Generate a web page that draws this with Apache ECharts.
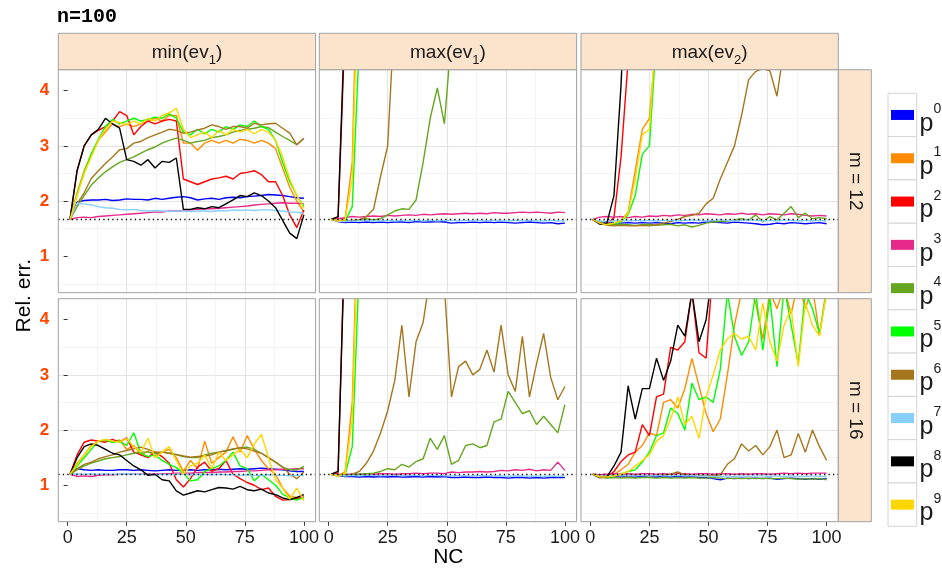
<!DOCTYPE html>
<html><head><meta charset="utf-8">
<script src="https://cdn.jsdelivr.net/npm/echarts@6/dist/echarts.min.js"></script>
<style>html,body{margin:0;padding:0;background:#fff}#c{width:942px;height:574px}</style>
</head><body><div id="c"></div>
<script>
// ---------------- data ----------------
const NC = [1,4,7,10,13,16,19,22,25,28,31,34,37,40,43,46,49,52,55,58,61,64,67,70,73,76,79,82,85,88,91,94,97,100];
const SERIES_NAMES = ['p0','p1','p2','p3','p4','p5','p6','p7','p8','p9'];
const COLORS = ['#0000FF','#FF8C00','#FF0000','#E7298A','#66A61E','#00FF00','#A6761D','#87CEFA','#000000','#FFD700'];
const COL_TITLES = [['min','1'],['max','1'],['max','2']];
const ROW_TITLES = ['m = 12','m = 16'];
const REF_LINE = [5/3, 1.2];
const X_TICKS = [0,25,50,75,100];
const Y_TICKS = [1,2,3,4];

// min(ev1), m = 12
const A12_p0 = [1.667,1.98,2.01,2.02,2.02,2.03,2.01,2.02,2.04,2.03,2.03,2.02,2.05,2.03,2.05,2.07,2.08,2.06,2.02,2.04,2.05,2.03,2.06,2.07,2.06,2.08,2.09,2.1,2.12,2.11,2.1,2.08,2.06,2.05];
const A12_p1 = [1.667,2.15,2.55,2.85,3.1,3.25,3.4,3.35,3.4,3.35,3.4,3.45,3.5,3.45,3.55,3.55,3.05,3.05,2.92,3.05,3.1,3.05,3.1,3.05,3.12,3.1,3.05,3.1,3.05,2.95,2.6,2.25,2.0,1.8];
const A12_p2 = [1.667,2.55,3.0,3.2,3.28,3.35,3.45,3.62,3.55,3.2,3.35,3.45,3.4,3.45,3.48,3.45,2.4,2.35,2.3,2.35,2.4,2.42,2.45,2.4,2.5,2.52,2.55,2.48,2.35,2.35,2.1,1.75,1.52,1.84];
const A12_p3 = [1.667,1.7,1.71,1.7,1.72,1.73,1.74,1.75,1.76,1.77,1.78,1.79,1.8,1.8,1.82,1.82,1.83,1.84,1.85,1.86,1.86,1.87,1.88,1.89,1.9,1.91,1.93,1.94,1.95,1.96,1.97,1.96,1.96,1.95];
const A12_p4 = [1.667,1.9,2.1,2.29,2.42,2.53,2.62,2.7,2.75,2.8,2.87,2.93,2.98,3.05,3.1,3.14,3.1,3.05,3.08,3.1,3.15,3.17,3.2,3.25,3.28,3.3,3.32,3.35,3.33,3.25,3.17,3.1,3.02,3.14];
const A12_p5 = [1.667,2.12,2.52,2.85,3.12,3.35,3.48,3.4,3.45,3.5,3.45,3.48,3.52,3.5,3.58,3.5,3.25,3.2,3.3,3.22,3.3,3.25,3.35,3.3,3.38,3.35,3.45,3.35,3.3,3.1,2.7,2.35,2.1,1.9];
const A12_p6 = [1.667,1.95,2.15,2.41,2.55,2.68,2.8,2.93,2.95,3.05,3.08,3.15,3.2,3.25,3.3,3.28,3.23,3.25,3.29,3.32,3.38,3.35,3.3,3.35,3.35,3.32,3.41,3.38,3.4,3.41,3.32,3.23,3.02,3.14];
const A12_p7 = [1.667,1.96,1.95,1.93,1.9,1.88,1.87,1.85,1.84,1.85,1.83,1.82,1.83,1.82,1.81,1.82,1.82,1.81,1.82,1.82,1.81,1.83,1.82,1.84,1.83,1.84,1.83,1.84,1.84,1.83,1.82,1.8,1.8,1.78];
const A12_p8 = [1.667,2.55,3.0,3.2,3.3,3.5,3.4,3.32,2.75,2.72,2.65,2.75,2.6,2.72,2.7,2.78,1.85,1.85,1.88,1.86,1.9,1.88,1.95,2.02,2.1,2.08,2.15,2.1,2.0,1.88,1.65,1.42,1.32,1.75];
const A12_p9 = [1.667,2.1,2.5,2.8,3.1,3.3,3.45,3.42,3.38,3.45,3.4,3.5,3.45,3.55,3.6,3.68,3.3,3.15,3.2,3.25,3.15,3.28,3.2,3.3,3.25,3.3,3.22,3.3,3.25,3.1,2.8,2.4,2.1,1.87];

// max(ev1), m = 12
const B12_p0 = [1.667,1.63,1.61,1.62,1.61,1.62,1.61,1.62,1.61,1.62,1.62,1.61,1.63,1.62,1.62,1.63,1.62,1.6,1.61,1.61,1.62,1.61,1.62,1.61,1.62,1.61,1.6,1.61,1.62,1.61,1.6,1.61,1.59,1.6];
const B12_p1 = [1.667,1.64,1.68,2.7,8];
const B12_p2 = [1.667,1.7,5.2];
const B12_p3 = [1.667,1.68,1.7,1.72,1.71,1.72,1.73,1.72,1.74,1.73,1.74,1.75,1.74,1.76,1.75,1.76,1.77,1.76,1.77,1.78,1.77,1.78,1.77,1.79,1.78,1.78,1.79,1.8,1.79,1.8,1.79,1.78,1.8,1.79];
const B12_p4 = [1.667,1.65,1.64,1.65,1.66,1.68,1.66,1.68,1.75,1.82,1.86,1.85,2.02,2.7,3.5,4.05,3.4,5.0];
const B12_p5 = [1.667,1.64,1.64,1.9,4.9];
const B12_p6 = [1.667,1.64,1.63,1.65,1.66,1.72,1.85,2.45,3.0,5.5];
const B12_p7 = [1.667,1.64,1.63,1.64,1.64,1.65,1.64,1.64,1.65,1.64,1.65,1.64,1.65,1.64,1.65,1.64,1.65,1.65,1.64,1.65,1.64,1.65,1.64,1.65,1.64,1.64,1.65,1.64,1.65,1.64,1.64,1.65,1.64,1.64];
const B12_p8 = [1.667,1.72,5.5];
const B12_p9 = [1.667,1.64,1.66,2.4,7];

// max(ev2), m = 12
const C12_p0 = [1.667,1.62,1.6,1.61,1.6,1.61,1.6,1.61,1.6,1.61,1.6,1.59,1.61,1.6,1.61,1.6,1.62,1.62,1.61,1.6,1.62,1.61,1.6,1.59,1.57,1.58,1.6,1.59,1.61,1.6,1.59,1.6,1.61,1.59];
const C12_p1 = [1.667,1.6,1.57,1.6,1.65,1.8,2.55,3.3,3.5,5.0];
const C12_p2 = [1.667,1.6,1.58,1.7,2.8,4.55];
const C12_p3 = [1.667,1.71,1.72,1.71,1.72,1.7,1.72,1.71,1.73,1.72,1.74,1.73,1.75,1.74,1.76,1.75,1.77,1.76,1.75,1.77,1.76,1.78,1.76,1.77,1.75,1.77,1.76,1.75,1.77,1.76,1.74,1.73,1.74,1.73];
const C12_p4 = [1.667,1.62,1.58,1.57,1.58,1.57,1.56,1.57,1.58,1.56,1.57,1.58,1.55,1.57,1.53,1.56,1.6,1.62,1.63,1.64,1.66,1.68,1.65,1.75,1.62,1.72,1.66,1.78,1.9,1.7,1.78,1.68,1.7,1.68];
const C12_p5 = [1.667,1.6,1.57,1.6,1.62,1.75,2.1,2.85,3.0,5.0];
const C12_p6 = [1.667,1.62,1.56,1.55,1.56,1.55,1.55,1.56,1.55,1.57,1.6,1.63,1.67,1.72,1.74,1.78,1.95,2.05,2.4,2.7,3.0,3.55,4.2,4.35,4.4,4.36,3.9,4.8];
const C12_p7 = [1.667,1.64,1.63,1.64,1.65,1.64,1.65,1.64,1.65,1.64,1.65,1.65,1.64,1.65,1.66,1.65,1.64,1.65,1.66,1.65,1.64,1.65,1.66,1.65,1.64,1.65,1.64,1.66,1.65,1.64,1.65,1.64,1.65,1.64];
const C12_p8 = [1.667,1.58,1.6,2.1,4.1,7];
const C12_p9 = [1.667,1.6,1.57,1.6,1.64,1.78,2.4,3.2,3.3,5.2];

// min(ev1), m = 16
const A16_p0 = [1.2,1.3,1.28,1.27,1.28,1.27,1.27,1.28,1.28,1.27,1.28,1.27,1.26,1.27,1.28,1.27,1.27,1.28,1.27,1.28,1.28,1.29,1.28,1.29,1.3,1.29,1.3,1.31,1.3,1.29,1.28,1.26,1.25,1.25];
const A16_p1 = [1.2,1.4,1.55,1.72,1.8,1.82,1.78,1.82,1.65,1.72,1.55,1.62,1.52,1.6,1.65,1.5,1.25,1.45,1.3,1.8,1.4,1.5,1.6,1.88,1.6,1.9,1.65,1.45,1.3,1.2,0.95,0.8,0.78,0.75];
const A16_p2 = [1.2,1.55,1.78,1.82,1.8,1.78,1.83,1.78,1.86,1.6,1.55,1.5,1.6,1.52,1.4,1.1,0.97,1.12,1.33,1.42,1.25,1.3,1.45,1.2,1.12,1.05,1.0,0.92,0.95,0.8,0.73,0.74,0.76,0.79];
const A16_p3 = [1.2,1.16,1.17,1.16,1.18,1.19,1.19,1.2,1.2,1.2,1.2,1.21,1.2,1.21,1.21,1.22,1.22,1.22,1.23,1.23,1.23,1.24,1.24,1.25,1.25,1.26,1.26,1.27,1.28,1.28,1.29,1.29,1.3,1.3];
const A16_p4 = [1.2,1.28,1.35,1.4,1.44,1.48,1.5,1.52,1.55,1.58,1.6,1.6,1.58,1.6,1.58,1.55,1.52,1.5,1.5,1.55,1.58,1.6,1.62,1.65,1.68,1.69,1.65,1.58,1.5,1.42,1.33,1.28,1.28,1.34];
const A16_p5 = [1.2,1.35,1.5,1.65,1.8,1.82,1.78,1.8,1.72,1.95,1.58,1.52,1.55,1.45,1.38,1.32,1.22,1.08,1.1,1.25,1.3,1.35,1.45,1.6,1.35,1.3,1.08,1.2,1.1,1.0,0.84,0.77,0.73,0.78];
const A16_p6 = [1.2,1.3,1.38,1.42,1.48,1.52,1.55,1.6,1.63,1.66,1.69,1.65,1.6,1.6,1.58,1.56,1.53,1.51,1.52,1.53,1.55,1.6,1.63,1.66,1.68,1.66,1.62,1.58,1.5,1.42,1.33,1.2,1.12,1.24];
const A16_p7 = [1.2,1.21,1.2,1.21,1.2,1.21,1.2,1.2,1.21,1.2,1.2,1.2,1.19,1.2,1.19,1.2,1.2,1.19,1.2,1.19,1.19,1.2,1.19,1.19,1.18,1.19,1.18,1.18,1.19,1.18,1.18,1.17,1.18,1.18];
const A16_p8 = [1.2,1.5,1.7,1.75,1.72,1.65,1.58,1.55,1.45,1.35,1.28,1.18,1.2,1.1,1.08,0.9,0.82,0.86,0.9,0.88,0.92,0.96,0.95,0.93,0.98,0.92,0.9,0.93,0.86,0.83,0.77,0.74,0.78,0.83];
const A16_p9 = [1.2,1.38,1.55,1.7,1.8,1.83,1.8,1.78,1.85,1.7,1.6,1.85,1.5,1.6,1.7,1.45,1.2,1.35,1.4,1.55,1.3,1.6,1.45,1.55,1.65,1.5,1.75,1.92,1.5,1.1,0.95,0.75,0.95,0.72];

// max(ev1), m = 16
const B16_p0 = [1.2,1.17,1.16,1.16,1.15,1.16,1.15,1.16,1.15,1.16,1.15,1.15,1.16,1.15,1.16,1.15,1.16,1.14,1.14,1.15,1.14,1.14,1.15,1.14,1.14,1.13,1.14,1.14,1.13,1.14,1.13,1.14,1.14,1.14];
const B16_p1 = [1.2,1.17,1.25,2.5,7];
const B16_p2 = [1.2,1.22,5.9];
const B16_p3 = [1.2,1.19,1.19,1.2,1.2,1.21,1.2,1.21,1.21,1.2,1.21,1.21,1.22,1.21,1.22,1.22,1.21,1.24,1.23,1.24,1.24,1.25,1.24,1.25,1.27,1.26,1.28,1.27,1.29,1.26,1.28,1.27,1.42,1.27];
const B16_p4 = [1.2,1.18,1.17,1.19,1.2,1.21,1.22,1.25,1.3,1.28,1.38,1.33,1.43,1.48,1.85,1.65,1.9,1.38,1.45,1.72,1.75,1.68,1.72,2.15,2.2,2.7,2.5,2.3,2.35,2.1,2.25,2.1,1.95,2.46];
const B16_p5 = [1.2,1.17,1.2,1.7,5.0];
const B16_p6 = [1.2,1.18,1.19,1.2,1.25,1.4,1.62,1.95,2.35,2.9,3.9,2.6,3.6,3.95,4.8,4.8,4.6,2.6,3.15,3.25,3.0,3.1,3.45,3.05,3.9,3.0,2.7,3.7,2.6,3.2,3.75,2.95,2.55,2.79];
const B16_p7 = [1.2,1.18,1.17,1.18,1.17,1.18,1.18,1.17,1.18,1.18,1.17,1.18,1.18,1.17,1.18,1.18,1.17,1.17,1.18,1.17,1.17,1.18,1.17,1.17,1.17,1.16,1.17,1.17,1.16,1.17,1.16,1.17,1.16,1.17];
const B16_p8 = [1.2,1.25,5.7];
const B16_p9 = [1.2,1.16,1.22,2.2,6.5];

// max(ev2), m = 16
const C16_p0 = [1.2,1.15,1.14,1.15,1.16,1.15,1.15,1.16,1.15,1.15,1.16,1.15,1.16,1.15,1.15,1.14,1.14,1.12,1.1,1.13,1.12,1.13,1.12,1.13,1.12,1.13,1.11,1.12,1.13,1.12,1.11,1.12,1.11,1.12];
const C16_p1 = [1.2,1.15,1.16,1.2,1.28,1.38,1.6,1.72,1.95,1.9,2.5,2.55,2.4,2.75,3.3,2.8,2.3,1.97,2.2,3.0,3.9,4.5,4.6,4.3,3.65,4.5,4.2,4.6,4.1,4.7,4.2,4.6,3.72,4.6];
const C16_p2 = [1.2,1.14,1.15,1.25,1.43,1.55,1.6,2.1,1.9,2.6,2.65,3.5,3.45,3.6,4.5,3.4,3.3,5.0];
const C16_p3 = [1.2,1.19,1.2,1.21,1.2,1.21,1.2,1.21,1.21,1.2,1.21,1.2,1.21,1.21,1.2,1.21,1.21,1.2,1.21,1.21,1.2,1.21,1.2,1.21,1.21,1.2,1.21,1.22,1.21,1.22,1.21,1.22,1.22,1.22];
const C16_p4 = [1.2,1.15,1.13,1.14,1.13,1.14,1.13,1.14,1.14,1.13,1.14,1.13,1.14,1.13,1.14,1.13,1.13,1.14,1.13,1.12,1.13,1.12,1.13,1.12,1.13,1.12,1.12,1.13,1.12,1.11,1.12,1.11,1.12,1.1];
const C16_p5 = [1.2,1.15,1.15,1.17,1.2,1.25,1.28,1.42,1.6,1.9,1.95,2.4,2.3,2.0,2.85,2.55,2.6,2.5,3.1,4.5,3.7,3.35,3.6,4.5,3.45,4.4,3.15,4.6,3.9,3.2,4.5,4.2,3.75,4.5];
const C16_p6 = [1.2,1.16,1.17,1.17,1.18,1.17,1.18,1.18,1.17,1.18,1.18,1.2,1.24,1.19,1.18,1.18,1.18,1.17,1.19,1.38,1.48,1.75,1.62,1.72,1.55,1.7,2.0,1.5,1.55,1.94,1.6,2.0,1.7,1.45];
const C16_p7 = [1.2,1.16,1.17,1.18,1.17,1.18,1.17,1.18,1.17,1.18,1.17,1.17,1.18,1.17,1.18,1.17,1.17,1.16,1.16,1.17,1.16,1.17,1.16,1.17,1.17,1.16,1.17,1.16,1.17,1.16,1.16,1.17,1.16,1.16];
const C16_p8 = [1.2,1.14,1.15,1.35,1.6,2.8,2.2,2.75,2.75,3.3,2.9,3.25,3.9,3.7,4.5,3.6,4.0,5.0];
const C16_p9 = [1.2,1.15,1.15,1.17,1.2,1.25,1.35,1.45,1.55,1.8,1.9,2.2,2.6,2.1,2.25,1.85,2.6,3.0,3.45,3.65,3.75,3.65,3.7,3.45,4.3,3.6,3.25,3.9,4.2,3.15,4.3,3.9,3.7,4.5];

const PANELS = [
  [A12_p0,A12_p1,A12_p2,A12_p3,A12_p4,A12_p5,A12_p6,A12_p7,A12_p8,A12_p9],
  [B12_p0,B12_p1,B12_p2,B12_p3,B12_p4,B12_p5,B12_p6,B12_p7,B12_p8,B12_p9],
  [C12_p0,C12_p1,C12_p2,C12_p3,C12_p4,C12_p5,C12_p6,C12_p7,C12_p8,C12_p9],
  [A16_p0,A16_p1,A16_p2,A16_p3,A16_p4,A16_p5,A16_p6,A16_p7,A16_p8,A16_p9],
  [B16_p0,B16_p1,B16_p2,B16_p3,B16_p4,B16_p5,B16_p6,B16_p7,B16_p8,B16_p9],
  [C16_p0,C16_p1,C16_p2,C16_p3,C16_p4,C16_p5,C16_p6,C16_p7,C16_p8,C16_p9]
];

// ---------------- layout ----------------
const FONT = '"Liberation Sans", Arial, Helvetica, sans-serif';
const GL = [58.3, 319.3, 581], GW = 257.3;
const GT = [69.7, 298.7], GH = 223;
const STRIP_TOP = 33.3, STRIP_H = 36.4;
const RS_X = 838.3, RS_W = 33;
const LEG_TOP = 93.3, LEG_STEP = 43.3;

const grids = [], xAxes = [], yAxes = [], series = [], graphic = [];
for (let r = 0; r < 2; r++) {
  for (let c = 0; c < 3; c++) {
    const idx = r * 3 + c;
    grids.push({left: GL[c], top: GT[r], width: GW, height: GH});
    xAxes.push({
      type: 'value', gridIndex: idx, min: -3.95, max: 104.95,
      minInterval: 25, maxInterval: 25, splitNumber: 4,
      axisLine: {show: false},
      axisTick: {show: r === 1, length: 4, lineStyle: {color: '#333', width: 1}, customValues: X_TICKS},
      axisLabel: {show: r === 1, customValues: X_TICKS, fontSize: 18, fontFamily: FONT, color: '#1a1a1a', margin: 7,
        formatter: v => (v % 25 === 0 ? String(v) : '')},
      splitLine: {show: true, showMinLine: false, showMaxLine: false, lineStyle: {color: '#E3E3E3', width: 1.1}},
      minorTick: {show: false, splitNumber: 2},
      minorSplitLine: {show: true, lineStyle: {color: '#F1F1F1', width: 0.8}}
    });
    yAxes.push({
      type: 'value', gridIndex: idx, min: 0.34, max: 4.38,
      minInterval: 1, maxInterval: 1, splitNumber: 4,
      axisLine: {show: false},
      axisTick: {show: c === 0, length: 4, lineStyle: {color: '#333', width: 1}, customValues: Y_TICKS},
      axisLabel: {show: c === 0, customValues: Y_TICKS, fontSize: 17, fontWeight: 'bold', fontFamily: FONT, color: '#FF4500', margin: 9,
        formatter: v => (Number.isInteger(v) ? String(v) : '')},
      splitLine: {show: true, showMinLine: false, showMaxLine: false, lineStyle: {color: '#E3E3E3', width: 1.1}},
      minorTick: {show: false, splitNumber: 2},
      minorSplitLine: {show: true, lineStyle: {color: '#F1F1F1', width: 0.8}}
    });
    PANELS[idx].forEach((arr, k) => {
      const s = {
        type: 'line', name: SERIES_NAMES[k], xAxisIndex: idx, yAxisIndex: idx,
        data: arr.map((v, i) => [NC[i], v]),
        symbol: 'none', showSymbol: false, clip: true, animation: false, silent: true,
        lineStyle: {width: 1.4, color: COLORS[k]}, itemStyle: {color: COLORS[k]}
      };
      if (k === 9) {
        s.markLine = {
          silent: true, animation: false, symbol: ['none', 'none'], label: {show: false},
          lineStyle: {type: [1.3, 3.2], color: '#000', width: 1.3},
          data: [{yAxis: REF_LINE[r]}]
        };
      }
      series.push(s);
    });
    graphic.push({type: 'rect', z: 50, silent: true,
      shape: {x: GL[c], y: GT[r], width: GW, height: GH},
      style: {fill: 'none', stroke: '#A0A0A0', lineWidth: 1}});
  }
}
// top strips
COL_TITLES.forEach((t, c) => {
  graphic.push({type: 'rect', z: 50, silent: true,
    shape: {x: GL[c], y: STRIP_TOP, width: GW, height: STRIP_H},
    style: {fill: '#FCE4CC', stroke: '#A0A0A0', lineWidth: 1}});
  graphic.push({type: 'text', z: 51, silent: true, x: GL[c] + GW / 2, y: STRIP_TOP + STRIP_H / 2 + 1,
    style: {text: '{a|' + t[0] + '(ev}{b|' + t[1] + '}{a|)}', align: 'center', verticalAlign: 'middle',
      rich: {a: {fontSize: 19, fontFamily: FONT, fill: '#1a1a1a', lineHeight: 28, verticalAlign: 'middle'},
             b: {fontSize: 13, fontFamily: FONT, fill: '#1a1a1a', lineHeight: 28, verticalAlign: 'bottom'}}}});
});
// right strips
ROW_TITLES.forEach((t, r) => {
  graphic.push({type: 'rect', z: 50, silent: true,
    shape: {x: RS_X, y: GT[r], width: RS_W, height: GH},
    style: {fill: '#FCE4CC', stroke: '#A0A0A0', lineWidth: 1}});
  graphic.push({type: 'text', z: 51, silent: true, x: RS_X + RS_W / 2, y: GT[r] + GH / 2, rotation: -Math.PI / 2,
    style: {text: t, align: 'center', verticalAlign: 'middle', font: '19px ' + FONT, fill: '#1a1a1a'}});
});
// legend key cells and labels (p with superscript digit)
SERIES_NAMES.forEach((n, i) => {
  const cy = LEG_TOP + i * LEG_STEP;
  graphic.push({type: 'rect', z: 1, silent: true,
    shape: {x: 888, y: cy, width: 28.7, height: LEG_STEP},
    style: {fill: '#fff', stroke: '#D4D4D4', lineWidth: 1}});
  graphic.push({type: 'text', z: 5, silent: true, x: 919.5, y: cy + 43,
    style: {text: 'p', verticalAlign: 'bottom', font: '25px ' + FONT, fill: '#1a1a1a'}});
  graphic.push({type: 'text', z: 5, silent: true, x: 933.5, y: cy + 23,
    style: {text: n.slice(1), verticalAlign: 'bottom', font: '14px ' + FONT, fill: '#1a1a1a'}});
});
// titles
graphic.push({type: 'text', silent: true, x: 57, y: 16.5,
  style: {text: 'n=100', verticalAlign: 'middle', font: 'bold 20px "Liberation Mono", "DejaVu Sans Mono", monospace', fill: '#000'}});
graphic.push({type: 'text', silent: true, x: 24, y: (GT[0] + GT[1] + GH) / 2, rotation: Math.PI / 2,
  style: {text: 'Rel. err.', align: 'center', verticalAlign: 'middle', font: '21px ' + FONT, fill: '#000'}});
graphic.push({type: 'text', silent: true, x: (GL[0] + RS_X) / 2, y: 557,
  style: {text: 'NC', align: 'center', verticalAlign: 'middle', font: '21px ' + FONT, fill: '#000'}});

const chart = echarts.init(document.getElementById('c'), null, {renderer: 'canvas'});
chart.setOption({
  animation: false,
  backgroundColor: '#fff',
  grid: grids, xAxis: xAxes, yAxis: yAxes, series: series, graphic: graphic,
  legend: {
    data: SERIES_NAMES, orient: 'vertical', left: 891, top: LEG_TOP + LEG_STEP / 2 - 5, padding: 0,
    itemWidth: 23, itemHeight: 10, itemGap: LEG_STEP - 10, icon: 'rect', selectedMode: false,
    formatter: () => '', textStyle: {fontSize: 1, lineHeight: 1}
  }
});
</script>
</body></html>
